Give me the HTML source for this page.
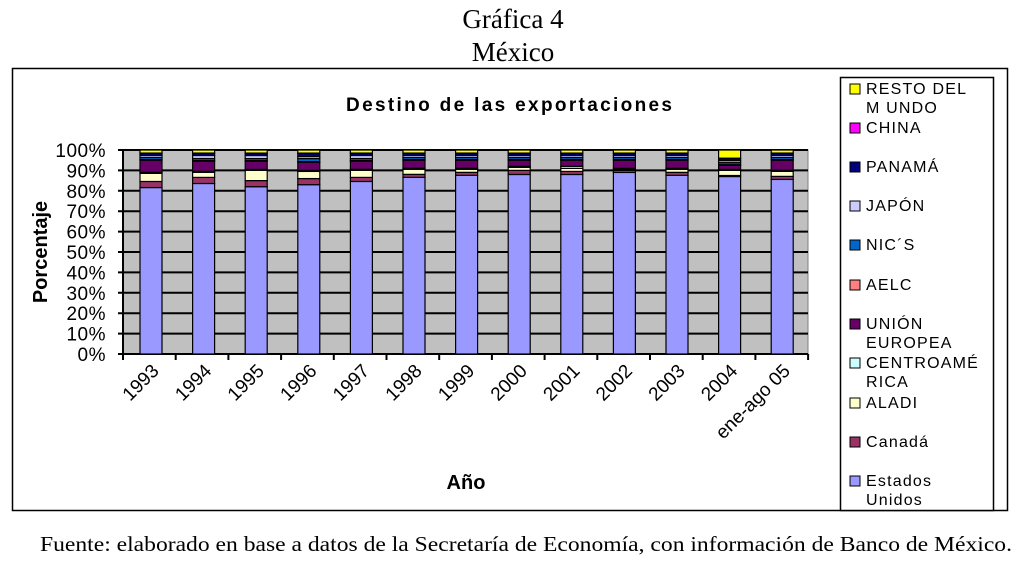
<!DOCTYPE html><html><head><style>body{margin:0;background:#fff;width:1024px;height:563px;overflow:hidden}</style></head><body>
<svg width="1024" height="563" xmlns="http://www.w3.org/2000/svg" font-family="Liberation Sans, sans-serif">
<text x="513" y="28" text-anchor="middle" font-family="Liberation Serif, serif" font-size="27">Gráfica 4</text>
<text x="513" y="61" text-anchor="middle" font-family="Liberation Serif, serif" font-size="27">México</text>
<rect x="12.5" y="68.5" width="995" height="442" fill="#fff" stroke="#000" stroke-width="1.5"/>
<text x="346" y="111" font-weight="bold" font-size="19" textLength="326" lengthAdjust="spacing">Destino de las exportaciones</text>
<rect x="123" y="150" width="685" height="204" fill="#c0c0c0" stroke="#808080"/>
<g id="grid" stroke="#000" stroke-width="2"></g>
<g id="bars"></g>
<text transform="translate(47,252) rotate(-90)" text-anchor="middle" font-weight="bold" font-size="20">Porcentaje</text>
<text x="466" y="489" text-anchor="middle" font-weight="bold" font-size="20">Año</text>
<g id="xl" font-size="19"></g>
<g id="yl" font-size="19" text-anchor="end" letter-spacing="0.5"></g>
<rect x="840.5" y="77.5" width="153" height="433" fill="#fff" stroke="#000" stroke-width="1.5"/>
<g id="leg" font-size="16" letter-spacing="1.2"></g>
<text x="40" y="551" font-family="Liberation Serif, serif" font-size="21" textLength="972" lengthAdjust="spacingAndGlyphs">Fuente: elaborado en base a datos de la Secretaría de Economía, con información de Banco de México.</text>
</svg>
<script>
const NS="http://www.w3.org/2000/svg";
function el(p,t,a,txt){const e=document.createElementNS(NS,t);for(const k in a)e.setAttribute(k,a[k]);if(txt)e.textContent=txt;document.getElementById(p).appendChild(e);}
for(let i=0;i<=10;i++){const y=354-i*20.4;el('grid','line',{x1:118,x2:808,y1:y,y2:y});el('yl','text',{x:106,y:y+7},(i*10)+'%');}
el('grid','line',{x1:123,x2:123,y1:150,y2:354});
for(let i=0;i<=13;i++){const x=123+i*52.7;el('grid','line',{x1:x,x2:x,y1:354,y2:360});}
const cols=['#9999ff','#993366','#ffffcc','#ccffff','#660066','#ff8080','#0066cc','#ccccff','#000080','#ff00ff','#ffff00'];
const data=[
[82,3,4,0.5,6,0.3,1,1,1,0.2,1.5],[84,3,2.5,0.5,5,0.3,1,1.5,1,0.2,1.5],[82,3,5,0.5,4,0.3,1,1.5,1,0.2,1.5],[83,3,3.5,0.5,4,0.3,1.5,1,1.5,0.2,1.5],
[85,2,3.5,0.5,4,0.3,1,1.5,1,0.2,1.5],[87,1.5,2.5,0.5,4,0.3,1,1,1,0.2,1.5],[88,1.5,1.5,0.5,4,0.3,1,1,1,0.2,1.5],[88,2,1.5,0.5,3,0.3,1,1,1,0.2,1.5],
[88,1.5,1.5,1,3,0.3,1,1,1,0.2,1.5],[89,1,0.5,0.5,4,0.3,1,1,1,0.2,1.5],[88,1.5,1.5,0.5,4,0.3,1,1,1,0.2,1.5],[87,0.5,2.5,0.5,2,0.3,1,1,1,0.2,4],[86,1.5,2.5,0.5,5,0.3,1,1,1,0.2,1.5]];
const lab=['1993','1994','1995','1996','1997','1998','1999','2000','2001','2002','2003','2004','ene-ago 05'];
data.forEach((d,i)=>{const s=d.reduce((a,b)=>a+b,0);let y=354;const x=140+i*52.6;
d.forEach((v,j)=>{const h=v/s*204;y-=h;el('bars','rect',{x:x,y:y,width:22,height:h,fill:cols[j],stroke:'#000','stroke-width':1.2});});
const cx=x+20;el('xl','text',{transform:`translate(${cx},372) rotate(-45)`,'text-anchor':'end'},lab[i]);});
const L=[['RESTO DEL','M UNDO',94],['CHINA','',133],['PANAMÁ','',172],['JAPÓN','',211],['NIC´S','',250],['AELC','',290],['UNIÓN','EUROPEA',329],['CENTROAMÉ','RICA',368],['ALADI','',408],['Canadá','',447],['Estados','Unidos',486]];
const lc=['#ffff00','#ff00ff','#000080','#ccccff','#0066cc','#ff8080','#660066','#ccffff','#ffffcc','#993366','#9999ff'];
L.forEach((l,i)=>{el('leg','rect',{x:850,y:l[2]-10,width:10,height:10,fill:lc[i],stroke:'#000'});el('leg','text',{x:866,y:l[2]},l[0]);if(l[1])el('leg','text',{x:866,y:l[2]+19},l[1]);});
</script>
</body></html>
